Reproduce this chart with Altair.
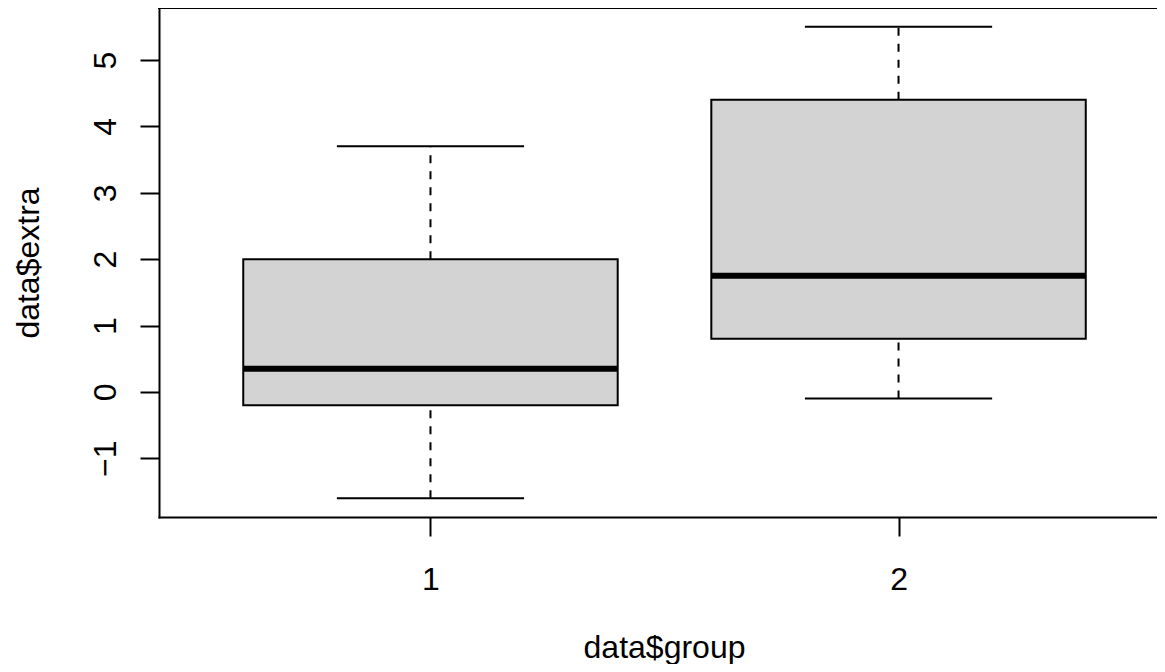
import altair as alt
import pandas as pd

groups = [1, 2]
mins = [-1.6, -0.1]
q1s = [-0.2, 0.8]
medians = [0.35, 1.75]
q3s = [2.0, 4.4]
maxs = [3.7, 5.5]
x_ticks = [1, 2]
y_ticks = [-1, 0, 1, 2, 3, 4, 5]

df = pd.DataFrame({"group": groups, "ymin": mins, "q1": q1s, "med": medians,
                   "q3": q3s, "ymax": maxs})

FONT = "Liberation Sans"
FS = 32
LW = 2
W = 998
H = 509

xscale = alt.Scale(domain=[0.42, 2.5522], nice=False, zero=False)
yscale = alt.Scale(domain=[-1.884, 5.784], nice=False, zero=False)

xaxis = alt.Axis(values=x_ticks, tickSize=19, tickWidth=LW, tickColor="black",
                 domain=True, domainColor="black", domainWidth=LW, domainCap="square",
                 grid=False, labelFont=FONT, labelFontSize=FS,
                 labelColor="black", labelBaseline="alphabetic", labelPadding=53,
                 labelFlush=False, format="d",
                 titleFont=FONT, titleFontSize=FS, titleColor="black",
                 titleFontWeight="normal", titleX=505, titleY=140,
                 titleAlign="center", titleBaseline="alphabetic")
yaxis = alt.Axis(values=y_ticks, tickSize=19, tickWidth=LW, tickColor="black",
                 domain=True, domainColor="black", domainWidth=LW, domainCap="square",
                 grid=False, labelFont=FONT, labelFontSize=FS,
                 labelColor="black", labelAngle=270, labelAlign="center",
                 labelBaseline="alphabetic", labelPadding=25, labelFlush=False,
                 format="d",
                 titleFont=FONT, titleFontSize=FS, titleColor="black",
                 titleFontWeight="normal", titleAngle=270, titleX=-121,
                 titleY=254.5, titleAlign="center", titleBaseline="alphabetic")

base = alt.Chart(df).transform_calculate(
    left="datum.group - 0.4", right="datum.group + 0.4",
    sl="datum.group - 0.2", sr="datum.group + 0.2")

whisk_hi = base.mark_rule(color="black", strokeWidth=LW, strokeDash=[8, 8]).encode(
    x=alt.X("group:Q", scale=xscale, axis=xaxis, title="data$group"),
    y=alt.Y("q3:Q", scale=yscale, axis=yaxis, title="data$extra"),
    y2="ymax:Q")
whisk_lo = base.mark_rule(color="black", strokeWidth=LW, strokeDash=[8, 8]).encode(
    x="group:Q", y="ymin:Q", y2="q1:Q")
box = base.mark_bar(fill="#D3D3D3", stroke="black", strokeWidth=LW).encode(
    x="left:Q", x2="right:Q", y="q1:Q", y2="q3:Q")
median = base.mark_rule(color="black", strokeWidth=6).encode(
    x="left:Q", x2="right:Q", y="med:Q")
staple_hi = base.mark_rule(color="black", strokeWidth=LW).encode(
    x="sl:Q", x2="sr:Q", y="ymax:Q")
staple_lo = base.mark_rule(color="black", strokeWidth=LW).encode(
    x="sl:Q", x2="sr:Q", y="ymin:Q")
# top edge of the plot frame (R's box())
frame_top = alt.Chart(pd.DataFrame({"k": [0]})).mark_rule(
    color="black", strokeWidth=LW, strokeCap="square").encode(
    x=alt.value(0), x2=alt.value(W + 5), y=alt.value(0))

chart = alt.layer(whisk_hi, whisk_lo, box, median, staple_hi, staple_lo,
                  frame_top).properties(
    width=W, height=H,
    autosize=alt.AutoSizeParams(type="none"),
    padding={"left": 151, "top": 0, "right": 0, "bottom": 147},
    background="white",
).configure_view(stroke=None)

chart.save("out.html", embed_options={"renderer": "svg", "actions": False})
